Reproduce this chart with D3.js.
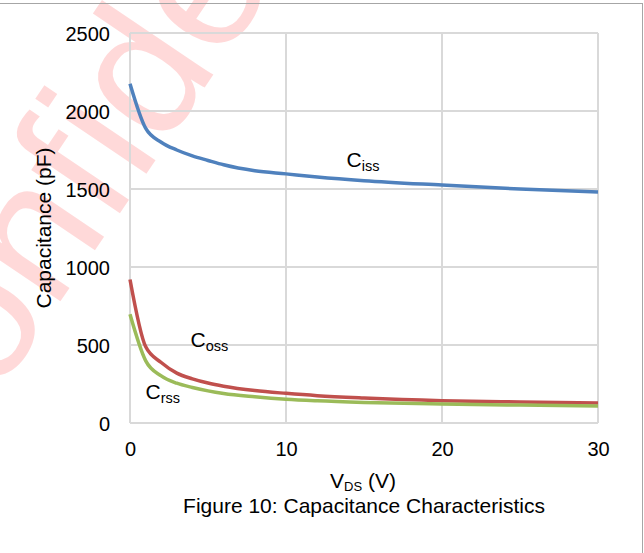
<!DOCTYPE html>
<html>
<head>
<meta charset="utf-8">
<script src="https://cdn.jsdelivr.net/npm/d3@7"></script>
<style>
  html, body { margin: 0; padding: 0; background: #fff; }
  svg { display: block; font-family: "Liberation Sans", Arial, sans-serif; }
</style>
</head>
<body>
<svg id="chart" width="644" height="553"></svg>
<script>
// ---- data ----
const vds = [0, 1, 2, 3, 4, 5, 6, 8, 10, 12, 15, 20, 25, 30];
const ciss = [2175, 1890, 1800, 1750, 1712, 1683, 1655, 1617, 1597, 1577, 1553, 1525, 1500, 1480];
const coss = [920, 490, 388, 320, 283, 256, 236, 208, 190, 175, 160, 143, 135, 129];
const crss = [697, 400, 302, 255, 228, 206, 189, 168, 152, 142, 132, 122, 115, 109];
const xTicks = [0, 10, 20, 30];
const yTicks = [0, 500, 1000, 1500, 2000, 2500];
const seriesNames = ["iss", "oss", "rss"];
const seriesColors = ["#4F81BD", "#C0504D", "#9BBB59"];

const svg = d3.select("#chart");

// watermark
svg.append("text")
  .attr("transform", "translate(-79,508) rotate(-56)")
  .attr("font-size", 185)
  .attr("fill", "#ff0000")
  .attr("fill-opacity", 0.15)
  .text("Confidential");

// frame lines
svg.append("line").attr("x1", 0).attr("x2", 643).attr("y1", 3.5).attr("y2", 3.5)
  .attr("stroke", "#a6a6a6").attr("stroke-width", 1);
svg.append("line").attr("x1", 642.5).attr("x2", 642.5).attr("y1", 3).attr("y2", 553)
  .attr("stroke", "#a6a6a6").attr("stroke-width", 1);

const x = d3.scaleLinear().domain([0, 30]).range([130, 598]);
const y = d3.scaleLinear().domain([0, 2500]).range([423, 33]);

// grid
const grid = svg.append("g");
grid.selectAll("line.h").data(yTicks).join("line")
  .attr("x1", x(0)).attr("x2", x(30))
  .attr("y1", d => y(d)).attr("y2", d => y(d))
  .attr("stroke", "#d9d9d9").attr("stroke-width", 2);
grid.selectAll("line.v").data(xTicks).join("line")
  .attr("y1", y(0)).attr("y2", y(2500))
  .attr("x1", d => x(d)).attr("x2", d => x(d))
  .attr("stroke", "#d9d9d9").attr("stroke-width", 2);

// axes labels via d3 axes
const yAxis = svg.append("g").attr("transform", `translate(${x(0) - 20},0)`)
  .call(d3.axisLeft(y).tickValues(yTicks).tickSize(0).tickPadding(0).tickFormat(d3.format("d")));
yAxis.select(".domain").remove();
yAxis.selectAll("text").attr("font-size", 20).attr("fill", "#000")
  .attr("font-family", "Liberation Sans, Arial, sans-serif").attr("dy", "0.36em").attr("x", 0);

const xAxis = svg.append("g").attr("transform", `translate(0,${y(0)})`)
  .call(d3.axisBottom(x).tickValues(xTicks).tickSize(0).tickPadding(0).tickFormat(d3.format("d")));
xAxis.select(".domain").remove();
xAxis.selectAll("text").attr("font-size", 20).attr("fill", "#000")
  .attr("font-family", "Liberation Sans, Arial, sans-serif").attr("dy", null).attr("y", 33);

// series
const line = d3.line().x(d => x(d[0])).y(d => y(d[1])).curve(d3.curveMonotoneX);
const allSeries = [ciss, coss, crss];
svg.append("g").selectAll("path").data(allSeries).join("path")
  .attr("d", s => line(vds.map((v, i) => [v, s[i]])))
  .attr("fill", "none")
  .attr("stroke", (d, i) => seriesColors[i])
  .attr("stroke-width", 3.5)
  .attr("stroke-linejoin", "round");

// series labels
const labelPos = [[346.5, 166.7], [190.5, 347.3], [145.5, 399.3]];
labelPos.forEach((p, i) => {
  const t = svg.append("text").attr("x", p[0]).attr("y", p[1]).attr("font-size", 21).attr("fill", "#000");
  t.append("tspan").text("C");
  t.append("tspan").attr("font-size", 14.5).attr("dy", 4).text(seriesNames[i]);
});

// y axis title
svg.append("text")
  .attr("transform", "translate(51,228) rotate(-90)")
  .attr("text-anchor", "middle")
  .attr("font-size", 21).attr("fill", "#000")
  .text("Capacitance (pF)");

// x axis title
const xt = svg.append("text").attr("x", 330).attr("y", 488).attr("font-size", 21).attr("fill", "#000");
xt.append("tspan").text("V");
xt.append("tspan").attr("font-size", 13).attr("dy", 3.3).text("DS");
xt.append("tspan").attr("dy", -3.3).text(" (V)");

// caption
svg.append("text").attr("x", 364).attr("y", 512.5).attr("text-anchor", "middle")
  .attr("font-size", 21).attr("fill", "#000")
  .text("Figure 10: Capacitance Characteristics");
</script>
</body>
</html>
